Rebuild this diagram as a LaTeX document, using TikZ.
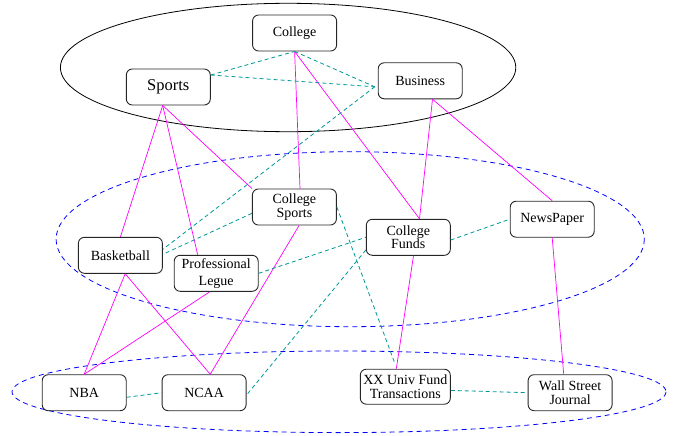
\documentclass[tikz,border=0pt]{standalone}
\usepackage{fontspec}
\setmainfont{Liberation Serif}
\usetikzlibrary{calc}
\definecolor{tealc}{RGB}{0,150,150}
\definecolor{magc}{RGB}{255,0,255}
\definecolor{bluec}{RGB}{0,0,255}
\begin{document}
\begin{tikzpicture}[x=1pt,y=-1pt,
  box/.style={draw=black!85, line width=0.9pt, rounded corners=6pt, minimum width=84pt, minimum height=36pt, inner sep=0pt, align=center, font=\fontsize{14}{13.5}\selectfont},
  rel/.style={draw=magc, line width=0.7pt},
  link/.style={draw=tealc, line width=0.8pt, dash pattern=on 4pt off 3pt},
  grp/.style={draw=bluec, line width=0.8pt, dash pattern=on 5pt off 4pt}]
\useasboundingbox (0,0) rectangle (677,436);
% groups
\draw[line width=0.8pt] (288.1,67.5) ellipse [x radius=227.7, y radius=64.2];
\draw[grp] (350.2,239.2) ellipse [x radius=294.1, y radius=87.5];
\draw[grp] (339,391.8) ellipse [x radius=327, y radius=40.8];
% nodes
\node[box] (college) at (294.6,33) {College};
\node[box, font=\fontsize{16.5}{18}\selectfont] (sports) at (168.3,87) {Sports};
\node[box] (business) at (420.2,80.8) {Business};
\node[box] (csports) at (294.4,207) {College\\Sports};
\node[box] (basket) at (120.4,255.3) {Basketball};
\node[box, font=\fontsize{14}{17}\selectfont] (prof) at (216.2,273.3) {Professional\\Legue};
\node[box] (cfunds) at (408.3,237.3) {College\\Funds};
\node[box] (news) at (552.2,219.2) {NewsPaper};
\node[box] (nba) at (84.2,392.7) {NBA};
\node[box] (ncaa) at (204.1,392.7) {NCAA};
\node[box, minimum width=90pt, minimum height=35pt] (xx) at (405.3,386.7) {XX Univ Fund\\Transactions};
\node[box] (wsj) at (570.1,392.7) {Wall Street\\Journal};
% magenta relations
\draw[rel] ([xshift=-5.6pt]sports.south) -- (basket.north);
\draw[rel] ([xshift=-5.6pt]sports.south) -- ([xshift=-18.5pt]prof.north);
\draw[rel] ([xshift=-5.6pt]sports.south) -- (csports.north west);
\draw[rel] (college.south) -- ([xshift=5.6pt]csports.north);
\draw[rel] (college.south) -- ([xshift=11.2pt]cfunds.north);
\draw[rel] ([xshift=12.3pt]business.south) -- ([xshift=11.2pt]cfunds.north);
\draw[rel] ([xshift=12.3pt]business.south) -- (news.north);
\draw[rel] ([xshift=4.8pt]basket.south) -- (nba.north);
\draw[rel] ([xshift=4.8pt]basket.south) -- ([xshift=6.1pt]ncaa.north);
\draw[rel] ([xshift=-6.4pt]prof.south) -- (nba.north);
\draw[rel] ([xshift=4.7pt]csports.south) -- ([xshift=6.1pt]ncaa.north);
\draw[rel] ([xshift=5.2pt]cfunds.south) -- ([xshift=-9pt]xx.north);
\draw[rel] (news.south) -- ([xshift=-6.4pt]wsj.north);
% teal dashed links
\draw[link] ([yshift=12pt]sports.east) -- (college.south);
\draw[link] ([yshift=12pt]sports.east) -- ([xshift=-3pt,yshift=-6pt]business.west);
\draw[link] (college.south) -- ([xshift=-3pt,yshift=-6pt]business.west);
\draw[link] ([xshift=-3pt,yshift=-6pt]business.west) -- ([yshift=6pt]basket.east);
\draw[link] ([yshift=-6.3pt]csports.west) -- ([yshift=1pt]basket.east);
\draw[link] (prof.east) -- (cfunds.west);
\draw[link] ([yshift=-2.7pt]cfunds.east) -- (news.west);
\draw[link] (csports.east) -- ([xshift=-10.5pt,yshift=5.5pt]xx.north);
\draw[link] ([yshift=-12.7pt]cfunds.west) -- ([yshift=-2.3pt]ncaa.east);
\draw[link] ([yshift=-4.6pt]nba.east) -- (ncaa.west);
\draw[link] ([yshift=-3.7pt]xx.east) -- (wsj.west);
\end{tikzpicture}
\end{document}
